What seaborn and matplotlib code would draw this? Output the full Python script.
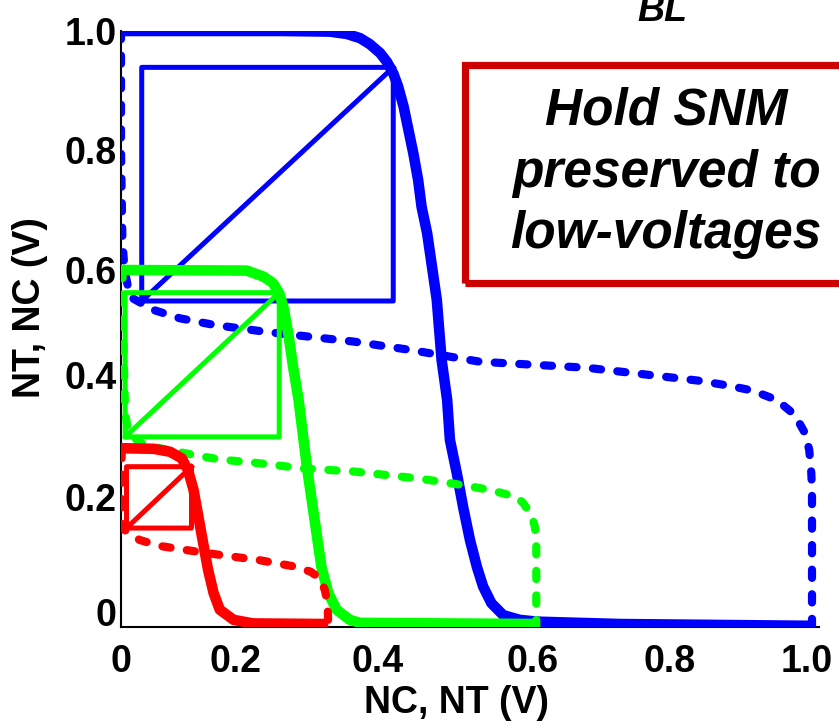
import numpy as np
import pandas as pd
import matplotlib
matplotlib.use("Agg")
import matplotlib.pyplot as plt
from matplotlib.patches import Rectangle
import seaborn as sns

# ---------------- data ----------------
# VDD = 1.0 V (blue)
blue_vtc_x = [0.0, 0.230, 0.302, 0.327, 0.346, 0.360, 0.375, 0.385, 0.394, 0.401, 0.409,
              0.416, 0.423, 0.430, 0.435, 0.443, 0.457, 0.464, 0.472, 0.476, 0.486,
              0.495, 0.505, 0.515, 0.524, 0.536, 0.553, 0.577, 0.602, 0.722, 1.0]
blue_vtc_y = [1.0, 1.0, 0.999, 0.995, 0.988, 0.978, 0.963, 0.948, 0.929, 0.907, 0.873,
              0.834, 0.795, 0.750, 0.705, 0.661, 0.549, 0.448, 0.381, 0.314, 0.258,
              0.202, 0.146, 0.101, 0.068, 0.040, 0.020, 0.012, 0.009, 0.005, 0.002]
blue_inv_x = [0.0, 0.0, 0.002, 0.005, 0.013, 0.047, 0.085, 0.134, 0.211, 0.336, 0.418,
              0.520, 0.674, 0.809, 0.838, 0.874, 0.913, 0.949, 0.975, 0.990, 0.996,
              0.999, 1.0, 1.0]
blue_inv_y = [1.0, 0.80, 0.650, 0.600, 0.554, 0.532, 0.518, 0.507, 0.495, 0.479, 0.465,
              0.445, 0.435, 0.417, 0.413, 0.406, 0.397, 0.381, 0.356, 0.325, 0.297,
              0.258, 0.230, 0.0]
blue_box = [0.030, 0.394, 0.547, 0.939]   # x0, x1, y0, y1

# VDD = 0.6 V (green)
green_vtc_x = [0.0, 0.182, 0.206, 0.220, 0.229, 0.235, 0.242, 0.249, 0.257, 0.263,
               0.269, 0.276, 0.283, 0.290, 0.300, 0.312, 0.331, 0.346, 0.602]
green_vtc_y = [0.599, 0.598, 0.588, 0.577, 0.560, 0.537, 0.493, 0.437, 0.381, 0.325,
               0.269, 0.213, 0.157, 0.101, 0.057, 0.029, 0.012, 0.007, 0.005]
green_inv_x = [0.002, 0.004, 0.006, 0.010, 0.027, 0.056, 0.104, 0.143, 0.191, 0.264,
               0.336, 0.432, 0.461, 0.495, 0.534, 0.573, 0.582, 0.594, 0.599, 0.601, 0.601]
green_inv_y = [0.599, 0.450, 0.360, 0.330, 0.309, 0.300, 0.289, 0.281, 0.276, 0.266,
               0.261, 0.249, 0.244, 0.238, 0.230, 0.218, 0.208, 0.188, 0.168, 0.146, 0.0]
green_box = [0.006, 0.229, 0.319, 0.561]

# VDD = 0.3 V (red)
red_vtc_x = [0.0, 0.047, 0.071, 0.088, 0.097, 0.105, 0.112, 0.119, 0.126, 0.134,
             0.143, 0.163, 0.191, 0.300]
red_vtc_y = [0.300, 0.299, 0.294, 0.283, 0.263, 0.230, 0.185, 0.140, 0.096, 0.057,
             0.029, 0.012, 0.006, 0.005]
red_inv_x = [0.001, 0.001, 0.008, 0.027, 0.056, 0.095, 0.143, 0.201, 0.249, 0.274,
             0.288, 0.295, 0.299, 0.300]
red_inv_y = [0.297, 0.168, 0.160, 0.146, 0.136, 0.129, 0.121, 0.112, 0.102, 0.093,
             0.082, 0.062, 0.040, 0.0]
red_box = [0.008, 0.102, 0.166, 0.269]

x_tick_vals = [0.0, 0.2, 0.4, 0.6, 0.8, 1.0]
y_tick_vals = [0.0, 0.2, 0.4, 0.6, 0.8, 1.0]
x_label_pos = [0.0, 0.165, 0.372, 0.595, 0.794, 0.993]
y_label_pos = [0.025, 0.218, 0.423, 0.599, 0.800, 1.0]
tick_texts = ["0", "0.2", "0.4", "0.6", "0.8", "1.0"]

x_label = "NC, NT (V)"
y_label = "NT, NC (V)"
top_text = "BL"
box_text = "Hold SNM\npreserved to\nlow-voltages"

# ---------------- figure ----------------
sns.set_style("white")
plt.rcParams["font.family"] = ["Liberation Sans", "DejaVu Sans"]
plt.rcParams["font.weight"] = "bold"
for key in ["text.color", "axes.labelcolor", "xtick.color", "ytick.color",
            "axes.edgecolor"]:
    plt.rcParams[key] = "black"

W, H = 839, 728
fig = plt.figure(figsize=(W / 100, H / 100), dpi=100)
ax_left, ax_right, ax_bottom, ax_top = 121, 819, 627, 31
ax = fig.add_axes([ax_left / W, (H - ax_bottom) / H,
                   (ax_right - ax_left) / W, (ax_bottom - ax_top) / H])
xmax = (ax_right - ax_left) / 691.0
ax.set_xlim(0, xmax)
ax.set_ylim(0, 1.0)

BLUE, GREEN, RED = "#0000FF", "#00FF00", "#FF0000"
LW_SOLID, LW_DASH, LW_BOX = 7.6, 5.9, 3.6
DASH_ON, DASH_OFF = 1.0, 2.0   # in units of line width (scaled by matplotlib)


def curve(xs, ys, color, lw, dashed=False, cap="butt"):
    df = pd.DataFrame({"x": xs, "y": ys})
    n_before = len(ax.lines)
    sns.lineplot(data=df, x="x", y="y", sort=False, estimator=None, color=color,
                 ax=ax)
    for ln in ax.lines[n_before:]:
        ln.set_linewidth(lw)
        ln.set_solid_joinstyle("round")
        ln.set_solid_capstyle(cap)
        if dashed:
            ln.set_dashes([DASH_ON, DASH_OFF])
            ln.set_dash_capstyle("round")
            ln.set_dash_joinstyle("round")


def snm_box(b, color):
    x0, x1, y0, y1 = b
    xs = [x0, x0, x1, x1, x0, x1]
    ys = [y0, y1, y1, y0, y0, y1]
    curve(xs, ys, color, LW_BOX, cap="projecting")


for vtc_x, vtc_y, inv_x, inv_y, box, col in [
        (blue_vtc_x, blue_vtc_y, blue_inv_x, blue_inv_y, blue_box, BLUE),
        (green_vtc_x, green_vtc_y, green_inv_x, green_inv_y, green_box, GREEN),
        (red_vtc_x, red_vtc_y, red_inv_x, red_inv_y, red_box, RED)]:
    curve(vtc_x, vtc_y, col, LW_SOLID)
    curve(inv_x, inv_y, col, LW_DASH, dashed=True)
    snm_box(box, col)

# spines
sns.despine(ax=ax, top=True, right=True)
for s in ["left", "bottom"]:
    ax.spines[s].set_color("black")
    ax.spines[s].set_linewidth(1.5)
    ax.spines[s].set_zorder(0.5)

# ticks: labels at their (offset) positions, small inward marks at values
ax.set_xticks(x_label_pos)
ax.set_xticklabels(tick_texts)
ax.set_yticks(y_label_pos)
ax.set_yticklabels(tick_texts)
ax.tick_params(axis="both", which="major", length=0, labelsize=27,
               labelcolor="black")
ax.tick_params(axis="x", which="major", pad=12)
ax.tick_params(axis="y", which="major", pad=3)
ax.set_xticks(x_tick_vals, minor=True)
ax.set_yticks(y_tick_vals, minor=True)
ax.tick_params(axis="both", which="minor", direction="in", length=4, width=1,
               color="black")
for lab in ax.get_xticklabels() + ax.get_yticklabels():
    lab.set_fontweight("bold")

ax.set_xlabel(x_label, fontsize=27, fontweight="bold", va="center", ha="center",
              color="black")
ax.set_ylabel(y_label, fontsize=27, fontweight="bold", va="center", ha="center",
              color="black")
ax.xaxis.set_label_coords((457 - ax_left) / (ax_right - ax_left),
                          (ax_bottom - 703) / (ax_bottom - ax_top))
ax.yaxis.set_label_coords((30 - ax_left) / (ax_right - ax_left),
                          (ax_bottom - 308) / (ax_bottom - ax_top))

# annotations
fig.text(662 / W, 1 - 21 / H, top_text, fontsize=27, fontweight="bold",
         fontstyle="italic", ha="center", va="baseline", color="black")
rect = Rectangle((465 / W, (H - 283) / H), 0.6, (283 - 65) / H,
                 transform=fig.transFigure, fill=False, edgecolor="#CC0000",
                 linewidth=5.2, clip_on=False)
fig.patches.append(rect)
fig.text(666 / W, 1 - 173 / H, box_text, fontsize=37, fontweight="bold",
         fontstyle="italic", ha="center", va="center", multialignment="center",
         linespacing=1.34, color="black")

fig.savefig("out.png", dpi=100)
